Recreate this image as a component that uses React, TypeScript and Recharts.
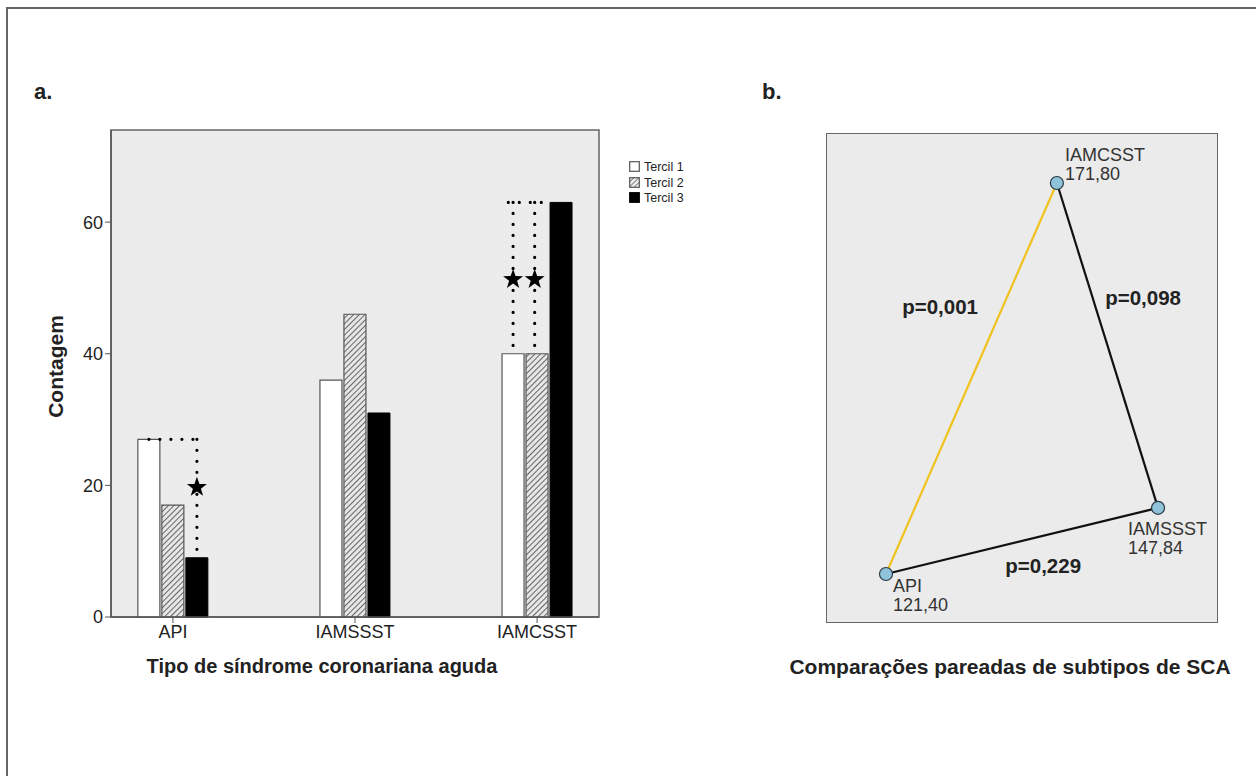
import React from "react";
import {
  Bar,
  BarChart,
  CartesianGrid,
  ReferenceArea,
  ReferenceDot,
  ReferenceLine,
  Scatter,
  ScatterChart,
  XAxis,
  YAxis,
} from "recharts";

// panel a: counts per ACS type and tertile
const groups = ["API", "IAMSSST", "IAMCSST"];
const tercil1 = [27, 36, 40];
const tercil2 = [17, 46, 40];
const tercil3 = [9, 31, 63];
const countTicks = [0, 20, 40, 60];

// panel b: pairwise comparisons (mean ranks)
const nodeNames = ["API", "IAMSSST", "IAMCSST"];
const meanRanks = ["121,40", "147,84", "171,80"];
const pairFrom = [0, 2, 1];
const pairTo = [2, 1, 0];
const pValues = ["p=0,001", "p=0,098", "p=0,229"];

const FONT = "'Liberation Sans', Arial, Helvetica, sans-serif";

// layout of the diagram in panel b (abstract 0..100 units)
const nodeX = [15.3, 84.7, 58.9];
const nodeY = [10.0, 23.5, 89.8];
const pLabelX = [29.1, 80.9, 55.4];
const pLabelY = [64.6, 66.5, 11.7];
const nodeLabelOffset: Record<string, { dx: number; dy: number }> = {
  API: { dx: 7, dy: 18 },
  IAMSSST: { dx: -30, dy: 27 },
  IAMCSST: { dx: 8, dy: -22 },
};
const edgeColors = ["#f0c21e", "#111", "#111"];

const barData = groups.map((g, i) => ({
  idx: i,
  name: g,
  t1: tercil1[i],
  t2: tercil2[i],
  t3: tercil3[i],
}));

const nodes = nodeNames.map((n, i) => ({ name: n, rank: meanRanks[i], x: nodeX[i], y: nodeY[i] }));
const pLabels = pValues.map((p, i) => ({ label: p, x: pLabelX[i], y: pLabelY[i] }));

// x domain of the bar panel and bar geometry (22px bars, 2px gap)
const X_DOMAIN: [number, number] = [-0.34, 2.34];
const PLOT_W = 488;
const pxPerUnit = PLOT_W / (X_DOMAIN[1] - X_DOMAIN[0]);
const step = 24 / pxPerUnit; // distance between neighbouring bar centres

const starPath = (cx: number, cy: number, R: number, r: number) => {
  const pts: string[] = [];
  for (let k = 0; k < 10; k++) {
    const rad = k % 2 === 0 ? R : r;
    const a = -Math.PI / 2 + (k * Math.PI) / 5;
    pts.push(`${cx + rad * Math.cos(a)},${cy + rad * Math.sin(a)}`);
  }
  return `M${pts.join("L")}Z`;
};

const Star = (props: any) => <path d={starPath(props.cx, props.cy, 10.5, 4.2)} fill="#000" />;

const dotted = {
  stroke: "#000",
  strokeWidth: 3.2,
  strokeDasharray: "0 11",
  strokeLinecap: "round" as const,
};

const YTitle = (props: any) => {
  const vb = props.viewBox || {};
  const cx = 55;
  const cy = vb.y + vb.height / 2 - 7;
  return (
    <text
      x={cx}
      y={cy}
      transform={`rotate(-90 ${cx} ${cy})`}
      textAnchor="middle"
      dominantBaseline="central"
      fontSize={21}
      fontWeight="bold"
      fill="#222"
      fontFamily={FONT}
    >
      Contagem
    </text>
  );
};

function Swatch({ kind }: { kind: number }) {
  return (
    <svg width={11} height={11} style={{ marginRight: 4, verticalAlign: "-1px" }}>
      <defs>
        <pattern id="legHatch" width="3.5" height="3.5" patternUnits="userSpaceOnUse" patternTransform="rotate(45)">
          <rect width="3.5" height="3.5" fill="#eee" />
          <line x1="0" y1="0" x2="0" y2="3.5" stroke="#444" strokeWidth="1.3" />
        </pattern>
      </defs>
      <rect
        x={0.7}
        y={0.7}
        width={9.6}
        height={9.6}
        fill={kind === 0 ? "#fff" : kind === 1 ? "url(#legHatch)" : "#000"}
        stroke={kind === 2 ? "#000" : "#555"}
        strokeWidth={1.2}
      />
    </svg>
  );
}

function NodeShape(props: any) {
  const { cx, cy, payload } = props;
  const off = nodeLabelOffset[payload.name];
  return (
    <g>
      <circle cx={cx} cy={cy} r={6.5} fill="#8ec3da" stroke="#2c3a44" strokeWidth={1.2} />
      <text x={cx + off.dx} y={cy + off.dy} fontSize={18} fill="#333" fontFamily={FONT}>
        {payload.name}
      </text>
      <text x={cx + off.dx} y={cy + off.dy + 19} fontSize={18} fill="#333" fontFamily={FONT}>
        {payload.rank}
      </text>
    </g>
  );
}

function PShape(props: any) {
  return (
    <text
      x={props.cx}
      y={props.cy}
      textAnchor="middle"
      dominantBaseline="central"
      fontSize={20.5}
      fontWeight="bold"
      fill="#222"
      fontFamily={FONT}
    >
      {props.payload.label}
    </text>
  );
}

export default function App() {
  return (
    <div
      style={{
        position: "absolute",
        left: 0,
        top: 0,
        width: 1256,
        height: 776,
        background: "#fff",
        overflow: "hidden",
        fontFamily: FONT,
      }}
    >
      <div
        style={{
          position: "absolute",
          left: 6,
          top: 7,
          right: 0,
          bottom: 0,
          borderTop: "2px solid #666",
          borderLeft: "2px solid #666",
        }}
      />
      <div style={{ position: "absolute", left: 34, top: 79, fontSize: 22, fontWeight: "bold", color: "#222" }}>a.</div>
      <div style={{ position: "absolute", left: 762, top: 79, fontSize: 22, fontWeight: "bold", color: "#222" }}>b.</div>

      <div style={{ position: "absolute", left: 0, top: 0 }}>
        <BarChart
          width={620}
          height={700}
          data={barData}
          margin={{ top: 130, right: 21, left: 0, bottom: 53 }}
          barSize={22}
          barGap={2}
        >
          <defs>
            <pattern id="hatch" width="4" height="4" patternUnits="userSpaceOnUse" patternTransform="rotate(45)">
              <rect width="4" height="4" fill="#e6e6e6" />
              <line x1="0" y1="0" x2="0" y2="4" stroke="#3a3a3a" strokeWidth="1.5" />
            </pattern>
          </defs>
          <CartesianGrid horizontal={false} vertical={false} fill="#ececec" />
          <XAxis
            type="number"
            dataKey="idx"
            domain={X_DOMAIN}
            ticks={[0, 1, 2]}
            interval={0}
            tickFormatter={(v) => groups[v]}
            tick={{ fontSize: 18, fill: "#222", fontFamily: FONT }}
            tickLine={{ stroke: "#555" }}
            tickSize={6}
            axisLine={{ stroke: "#555", strokeWidth: 1.5 }}
            height={30}
          />
          <YAxis
            type="number"
            domain={[0, 74]}
            ticks={countTicks}
            width={111}
            tick={{ fontSize: 18, fill: "#222", fontFamily: FONT }}
            tickLine={{ stroke: "#555" }}
            tickSize={6}
            axisLine={{ stroke: "#555", strokeWidth: 1.5 }}
            label={{ content: YTitle }}
          />
          <ReferenceArea x1={X_DOMAIN[0]} x2={X_DOMAIN[1]} y1={0} y2={74} fill="none" stroke="#666" strokeWidth={1.5} />
          <Bar dataKey="t1" name="Tercil 1" fill="#fff" stroke="#555" strokeWidth={1.2} isAnimationActive={false} />
          <Bar dataKey="t2" name="Tercil 2" fill="url(#hatch)" stroke="#555" strokeWidth={1.2} isAnimationActive={false} />
          <Bar dataKey="t3" name="Tercil 3" fill="#000" stroke="#000" strokeWidth={1} isAnimationActive={false} />

          {/* API: Tercil 1 vs Tercil 3 */}
          <ReferenceLine segment={[{ x: 0 - step, y: tercil1[0] }, { x: 0 + step, y: tercil1[0] }]} {...dotted} />
          <ReferenceLine segment={[{ x: 0 + step, y: tercil1[0] }, { x: 0 + step, y: tercil3[0] }]} {...dotted} />
          <ReferenceDot x={0 + step} y={19.7} r={0} shape={Star} />

          {/* IAMCSST: Tercil 1 and Tercil 2 vs Tercil 3 */}
          <ReferenceLine segment={[{ x: 2 - 1.2 * step, y: tercil3[2] }, { x: 2 + 0.42 * step, y: tercil3[2] }]} {...dotted} />
          <ReferenceLine segment={[{ x: 2 - step, y: tercil3[2] }, { x: 2 - step, y: tercil1[2] }]} {...dotted} />
          <ReferenceLine segment={[{ x: 2 - 0.1 * step, y: tercil3[2] }, { x: 2 - 0.1 * step, y: tercil2[2] }]} {...dotted} />
          <ReferenceDot x={2 - step} y={51.3} r={0} shape={Star} />
          <ReferenceDot x={2 - 0.1 * step} y={51.3} r={0} shape={Star} />
        </BarChart>
      </div>

      <div style={{ position: "absolute", left: 629, top: 160, fontSize: 12.5, lineHeight: "15.5px", color: "#222" }}>
        {["Tercil 1", "Tercil 2", "Tercil 3"].map((t, i) => (
          <div key={t}>
            <Swatch kind={i} />
            {t}
          </div>
        ))}
      </div>

      <div
        style={{
          position: "absolute",
          left: 72,
          width: 500,
          top: 655,
          textAlign: "center",
          fontSize: 20,
          fontWeight: "bold",
          color: "#222",
        }}
      >
        Tipo de síndrome coronariana aguda
      </div>

      <div style={{ position: "absolute", left: 826, top: 133 }}>
        <ScatterChart width={392} height={490} margin={{ top: 0, right: 0, bottom: 0, left: 0 }}>
          <CartesianGrid horizontal={false} vertical={false} fill="#ebebeb" />
          <XAxis type="number" dataKey="x" domain={[0, 100]} hide />
          <YAxis type="number" dataKey="y" domain={[0, 100]} hide />
          <ReferenceArea x1={0} x2={100} y1={0} y2={100} fill="none" stroke="#666" strokeWidth={2} />
          {pairFrom.map((a, i) => (
            <ReferenceLine
              key={i}
              segment={[
                { x: nodeX[a], y: nodeY[a] },
                { x: nodeX[pairTo[i]], y: nodeY[pairTo[i]] },
              ]}
              stroke={edgeColors[i]}
              strokeWidth={2.2}
            />
          ))}
          <Scatter data={pLabels} shape={PShape} isAnimationActive={false} />
          <Scatter data={nodes} shape={NodeShape} isAnimationActive={false} />
        </ScatterChart>
      </div>

      <div
        style={{
          position: "absolute",
          left: 710,
          width: 600,
          top: 655,
          textAlign: "center",
          fontSize: 21,
          fontWeight: "bold",
          color: "#222",
        }}
      >
        Comparações pareadas de subtipos de SCA
      </div>
    </div>
  );
}
